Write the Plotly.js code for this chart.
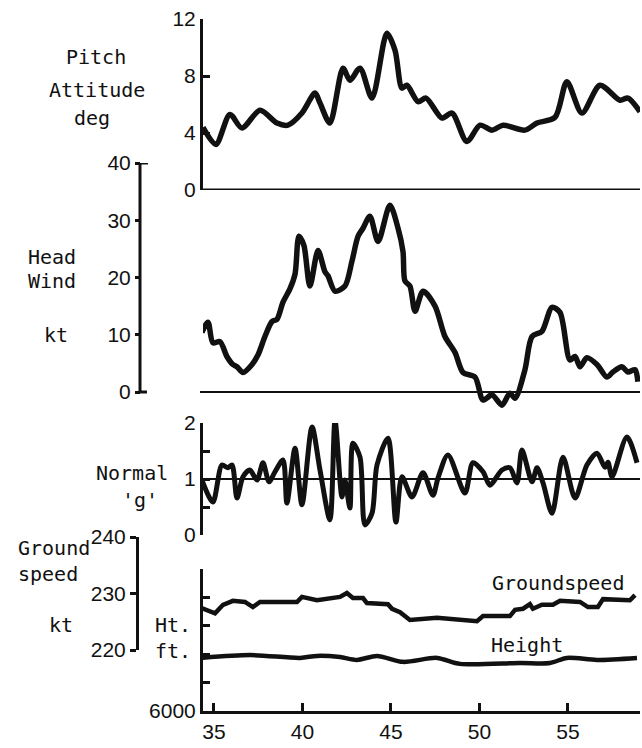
<!DOCTYPE html>
<html>
<head>
<meta charset="utf-8">
<script src="https://cdn.plot.ly/plotly-3.0.1.min.js"></script>
<style>html,body{margin:0;padding:0;background:#fff;}#chart{width:642px;height:748px;}</style>
</head>
<body>
<div id="chart"></div>
<script>
// ---- data (time axis, minutes) ----
const xTicks = [35, 40, 45, 50, 55];

const xPitch = [34.38,35.11,35.90,36.58,37.60,38.56,39.18,39.97,40.71,40.99,41.55,42.29,42.68,43.25,43.93,44.77,45.23,45.62,45.90,46.53,46.98,47.88,48.45,49.29,50.03,50.71,51.33,52.57,53.25,54.27,54.94,55.79,56.81,57.94,58.39,59.07];
const pitch = [4.4,3.2,5.3,4.35,5.6,4.7,4.55,5.4,6.8,6.1,4.7,8.55,7.7,8.55,6.45,11.0,9.8,7.15,7.35,6.2,6.45,5.05,5.4,3.4,4.55,4.2,4.55,4.2,4.7,5.1,7.6,5.4,7.35,6.3,6.45,5.5];

const xHeadWind = [34.32,34.66,34.94,35.34,35.73,36.07,36.30,36.64,37.15,37.49,37.88,38.28,38.56,38.90,39.29,39.58,39.80,40.08,40.42,40.88,41.27,41.44,41.84,42.40,42.80,43.14,43.42,43.81,44.27,44.94,45.40,45.68,45.79,46.07,46.36,46.81,47.49,48.05,48.62,49.07,49.75,50.20,50.71,51.27,51.72,52.01,52.57,52.97,53.53,54.10,54.55,55.11,55.40,55.68,56.07,56.64,57.20,57.54,58.05,58.39,58.79,58.95];
const headWind = [10.4,12.2,8.6,8.8,6.2,4.8,4.4,3.4,4.8,6.5,9.7,12.3,12.7,15.7,18.0,20.6,27.2,25.6,18.5,24.7,21.0,20.3,17.6,18.5,22.9,27.2,28.6,30.7,26.3,32.6,28.6,24.5,19.4,18.5,14.1,17.6,15.0,9.7,6.9,3.4,2.6,-1.4,-0.5,-2.3,-0.2,-1.1,3.9,9.7,10.6,14.8,13.9,5.6,6.2,4.4,6.0,4.8,2.6,3.5,4.4,3.5,3.9,1.8];

const xNormalG = [34.32,34.94,35.45,35.79,36.02,36.30,36.64,37.03,37.43,37.77,38.11,38.45,38.90,39.12,39.58,39.97,40.54,40.99,41.55,41.84,42.23,42.40,42.68,42.85,43.25,43.53,43.93,44.21,44.83,45.28,45.62,46.19,46.81,47.37,47.66,48.22,49.18,49.63,50.20,50.59,51.27,51.72,52.12,52.40,52.97,53.25,53.59,54.10,54.72,55.40,56.07,56.64,57.09,57.26,57.49,58.33,58.90];
const normalG = [0.98,0.59,1.25,1.2,1.25,0.66,1.04,1.16,0.98,1.29,0.95,1.13,1.34,0.57,1.55,0.54,1.93,1.16,0.27,2.05,0.68,0.98,0.48,1.64,1.39,0.18,0.39,1.25,1.73,0.23,1.04,0.68,1.11,0.71,1.02,1.43,0.75,1.29,1.13,0.89,1.16,1.2,0.93,1.52,0.95,1.2,0.93,0.39,1.39,0.66,1.25,1.46,1.21,1.3,1.04,1.75,1.29];

const xGroundspeed = [34.32,35.06,35.51,36.07,36.75,37.20,37.60,39.69,39.97,40.82,42.12,42.51,42.85,43.42,43.64,44.83,45.06,45.51,46.07,46.64,47.60,49.86,50.20,51.72,52.01,52.46,52.85,53.02,53.53,54.15,54.55,55.68,56.13,56.69,56.98,58.50,58.79];
const groundspeed = [227.4,226.5,228.0,228.7,228.5,227.6,228.5,228.5,229.4,228.8,229.4,230.1,229.2,229.2,228.3,228.1,227.3,226.7,225.3,225.5,225.7,225.1,226.0,226.0,227.1,227.3,228.1,227.3,228.0,228.0,228.7,228.5,227.6,227.6,229.0,228.8,229.7];

const xHeight = [34.32,37.03,39.86,40.82,42.12,43.08,44.21,45.68,47.60,48.90,52.29,53.98,54.94,56.64,58.90];
const height = [6187,6197,6187,6194,6190,6180,6194,6173,6187,6166,6169,6169,6187,6180,6187];

const pitchTicks = [0, 4, 8, 12];
const headWindTicks = [0, 10, 20, 30, 40];
const gTicks = [0, 0.5, 1, 1.5, 2];
const gTickText = ['0', '', '1', '', '2'];
const gsTicks = [220, 230, 240];
const htTicks = [6000, 6100, 6200, 6300, 6400, 6500];
const htTickText = ['6000', '', '', '', '', ''];

// ---- layout helpers (pixel -> paper) ----
const W = 642, H = 748;
const px = v => v / W;
const py = v => 1 - v / H;
const INK = '#111';
const numFont = {family: 'Liberation Sans, Arial, sans-serif', size: 21, color: INK};
const txtFont = {family: 'DejaVu Sans Mono, Liberation Mono, monospace', size: 20, color: INK};

const line = (w, shape) => ({color: INK, width: w, shape: shape || 'linear', smoothing: 0.8});

const traces = [
  {x: xPitch, y: pitch, xaxis: 'x', yaxis: 'y', mode: 'lines', line: line(5.5, 'spline'), hoverinfo: 'skip'},
  {x: xHeadWind, y: headWind, xaxis: 'x', yaxis: 'y2', mode: 'lines', line: line(5.5, 'spline'), hoverinfo: 'skip'},
  {x: xNormalG, y: normalG, xaxis: 'x', yaxis: 'y3', mode: 'lines', line: line(5, 'spline'), hoverinfo: 'skip'},
  {x: xGroundspeed, y: groundspeed, xaxis: 'x', yaxis: 'y4', mode: 'lines', line: line(4.5), hoverinfo: 'skip'},
  {x: xHeight, y: height, xaxis: 'x', yaxis: 'y5', mode: 'lines', line: line(4.5, 'spline'), hoverinfo: 'skip'}
];

const baseY = {showgrid: false, zeroline: false, showline: true, linecolor: INK, linewidth: 3,
  tickcolor: INK, tickwidth: 3, tickfont: numFont, fixedrange: true};

// head wind scale: 0 kt at y=392 px, 40 kt at y=163 px; panel extends to -3 kt so the dip shows
const hwPxPerKt = (392 - 163) / 40;
const hwMin = -3;

const layout = {
  width: W, height: H,
  margin: {l: 0, r: 0, t: 0, b: 0},
  paper_bgcolor: '#fff', plot_bgcolor: 'rgba(0,0,0,0)',
  showlegend: false,
  font: numFont,
  xaxis: {domain: [px(203), px(640)], range: [34.38, 59.07], anchor: 'y5',
    tickvals: xTicks, ticks: 'inside', ticklen: 8, tickwidth: 3, tickcolor: INK,
    showline: true, linewidth: 3, linecolor: INK, showgrid: false, zeroline: false,
    tickfont: numFont, fixedrange: true},
  yaxis: Object.assign({}, baseY, {domain: [py(190), py(19)], range: [0, 12], anchor: 'x',
    tickvals: pitchTicks, ticks: 'inside', ticklen: 7}),
  yaxis2: Object.assign({}, baseY, {domain: [py(392 - hwMin * hwPxPerKt), py(163)], range: [hwMin, 40],
    anchor: 'free', position: px(140), tickvals: headWindTicks, ticks: 'outside', ticklen: 5,
    showline: false}),
  yaxis3: Object.assign({}, baseY, {domain: [py(535), py(423)], range: [0, 2], anchor: 'x',
    tickvals: gTicks, ticktext: gTickText, ticks: 'inside', ticklen: 7}),
  yaxis4: Object.assign({}, baseY, {domain: [py(650), py(537)], range: [220, 240], anchor: 'free',
    position: px(137), tickvals: gsTicks, ticks: 'outside', ticklen: 6}),
  yaxis5: Object.assign({}, baseY, {domain: [py(711), py(569)], range: [6000, 6500], anchor: 'x',
    tickvals: htTicks, ticktext: htTickText, ticks: 'inside', ticklen: 7}),
  shapes: [
    // pitch base line (0 deg)
    {type: 'line', xref: 'paper', x0: px(203), x1: px(640), yref: 'y', y0: 0, y1: 0, line: {color: INK, width: 3}},
    // head wind axis line with end serifs
    {type: 'line', xref: 'paper', x0: px(140), x1: px(140), yref: 'y2', y0: 0, y1: 40, line: {color: INK, width: 3}},
    {type: 'line', xref: 'paper', x0: px(139), x1: px(148), yref: 'y2', y0: 40, y1: 40, line: {color: INK, width: 3}},
    {type: 'line', xref: 'paper', x0: px(139), x1: px(147), yref: 'y2', y0: 0, y1: 0, line: {color: INK, width: 3}},
    // head wind zero line
    {type: 'line', xref: 'paper', x0: px(200), x1: px(640), yref: 'y2', y0: 0, y1: 0, line: {color: INK, width: 2}},
    // normal g = 1 reference
    {type: 'line', xref: 'paper', x0: px(203), x1: px(640), yref: 'y3', y0: 1, y1: 1, line: {color: INK, width: 2}}
  ],
  annotations: [
    ['Pitch', 96, 57], ['Attitude', 97, 90], ['deg', 92, 118],
    ['Head', 52, 257], ['Wind', 52, 281], ['kt', 56, 335],
    ['Normal', 132, 473], ["'g'", 140, 500],
    ['Ground<br>speed', 54, 561], ['kt', 61, 625],
    ['Ht.<br>ft.', 173, 638],
    ['Groundspeed', 558, 583], ['Height', 527, 645]
  ].map(([t, x, y]) => ({text: t, xref: 'paper', yref: 'paper', x: px(x), y: py(y),
    xanchor: 'center', yanchor: 'middle', align: 'left', showarrow: false, font: txtFont}))
};

Plotly.newPlot('chart', traces, layout, {staticPlot: true, displayModeBar: false});
</script>
</body>
</html>
